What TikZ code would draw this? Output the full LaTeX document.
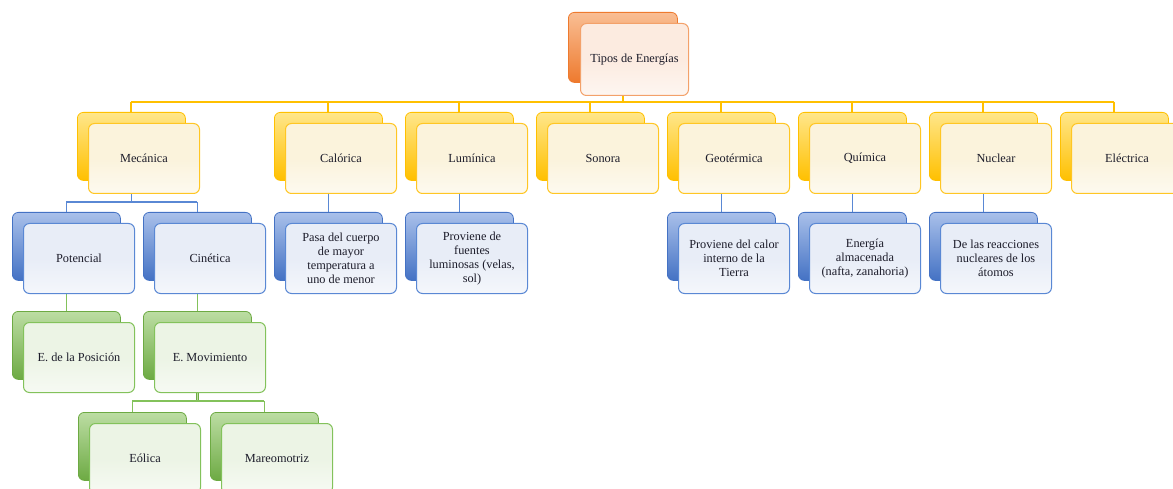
\documentclass[tikz,border=0pt]{standalone}
\usepackage{fontspec}
\setmainfont{Liberation Serif}
\usetikzlibrary{backgrounds}
\definecolor{OL}{HTML}{F9BE94}\definecolor{OD}{HTML}{EE7A2E}\definecolor{OF}{HTML}{FCEBE0}\definecolor{OB}{HTML}{F3A16A}
\definecolor{YL}{HTML}{FFE68A}\definecolor{YD}{HTML}{FFC000}\definecolor{YF}{HTML}{FBF3DC}\definecolor{YB}{HTML}{FFC624}
\definecolor{BL}{HTML}{A9C0EA}\definecolor{BD}{HTML}{4472C4}\definecolor{BF}{HTML}{E8EDF7}\definecolor{BB}{HTML}{5A88D4}
\definecolor{GL}{HTML}{BCDDA3}\definecolor{GD}{HTML}{6DAA43}\definecolor{GF}{HTML}{ECF4E5}\definecolor{GB}{HTML}{83C25B}
\definecolor{txt}{HTML}{1C1C2A}
\tikzset{
  backbox/.style={rounded corners=6pt, minimum width=108pt, minimum height=68pt,
    anchor=north west, inner sep=0pt, draw=#1D, line width=0.8pt, top color=#1L, bottom color=#1D},
  frontbox/.style={rounded corners=6pt, minimum width=111pt, minimum height=70pt,
    anchor=north west, inner sep=2pt, draw=#1B, line width=1pt,
    top color=#1F, bottom color=#1F!45!white, middle color=#1F,
    text=txt, align=center, font=\fontsize{12.3}{14}\selectfont},
  gline/.style={draw=YD, line width=2pt},
  bline/.style={draw=BB, line width=1.3pt},
  grline/.style={draw=GB, line width=1.4pt},
  grdouble/.style={draw=GD, double=GL, line width=0.7pt, double distance=1.6pt},
}
\newcommand\enbox[5]{%
  \node[backbox=#4] (#1-b) at (#2,#3) {};
  \node[frontbox=#4] (#1) at (#2+11,#3+11) {#5};
}
\begin{document}
\begin{tikzpicture}[x=1pt,y=-1pt]
\useasboundingbox (0,0) rectangle (1173,489);
\coordinate (bus1) at (0,102);
\coordinate (bus2) at (0,202);
\coordinate (bus3) at (0,401);
% top
\node[backbox=O, minimum width=109pt, minimum height=70pt] (top-b) at (568,12) {};
\node[frontbox=O, minimum width=108pt, minimum height=72pt] (top) at (580,23) {Tipos de Energías};
% level 1
\enbox{mec}{77}{112}{Y}{Mecánica}
\enbox{cal}{274}{112}{Y}{Calórica}
\enbox{lum}{405}{112}{Y}{Lumínica}
\enbox{son}{536}{112}{Y}{Sonora}
\enbox{geo}{667}{112}{Y}{Geotérmica}
\enbox{qui}{798}{112}{Y}{Química}
\enbox{nuc}{929}{112}{Y}{Nuclear}
\enbox{ele}{1060}{112}{Y}{Eléctrica}
% level 2
\enbox{pot}{12}{212}{B}{Potencial}
\enbox{cin}{143}{212}{B}{Cinética}
\enbox{cald}{274}{212}{B}{Pasa del cuerpo\\de mayor\\temperatura a\\uno de menor}
\enbox{lumd}{405}{212}{B}{Proviene de\\fuentes\\luminosas (velas,\\sol)}
\enbox{geod}{667}{212}{B}{Proviene del calor\\interno de la\\Tierra}
\enbox{quid}{798}{212}{B}{Energía\\almacenada\\(nafta, zanahoria)}
\enbox{nucd}{929}{212}{B}{De las reacciones\\nucleares de los\\átomos}
% level 3
\enbox{pos}{12}{311}{G}{E. de la Posición}
\enbox{mov}{143}{311}{G}{E. Movimiento}
% level 4
\enbox{eol}{78}{412}{G}{Eólica}
\enbox{mar}{210}{412}{G}{Mareomotriz}
\begin{scope}[on background layer]
\draw[gline] (top-b.center) -- (top-b.center |- bus1);
\draw[gline] (mec-b.center |- bus1) -- (ele-b.center |- bus1);
\foreach \n in {mec,cal,lum,son,geo,qui,nuc,ele}
  \draw[gline] (\n-b.center |- bus1) -- (\n-b.north);
\draw[bline] (mec-b.center) -- (mec-b.center |- bus2);
\draw[bline] (pot-b.center |- bus2) -- (cin-b.center |- bus2);
\draw[bline] (pot-b.center |- bus2) -- (pot-b.north);
\draw[bline] (cin-b.center |- bus2) -- (cin-b.north);
\foreach \n in {cal,lum,geo,qui,nuc}
  \draw[bline] (\n-b.center) -- (\n d-b.north);
\draw[grline] (pot-b.center) -- (pos-b.north);
\draw[grline] (cin-b.center) -- (mov-b.north);
\draw[grdouble] (mov-b.center) -- (mov-b.center |- bus3);
\draw[grline] (eol-b.center |- bus3) -- (mar-b.center |- bus3);
\draw[grline] (eol-b.center |- bus3) -- (eol-b.north);
\draw[grline] (mar-b.center |- bus3) -- (mar-b.north);
\end{scope}
\end{tikzpicture}
\end{document}
